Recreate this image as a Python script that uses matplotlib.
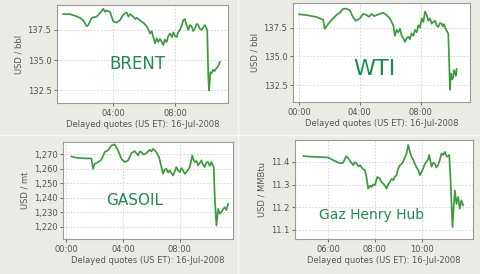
import matplotlib
matplotlib.use("Agg")
import matplotlib.pyplot as plt
from matplotlib.ticker import FuncFormatter

# hours (US ET) and prices
brent_h = [0.79, 1.23, 1.6, 1.87, 2.08, 2.3, 2.41, 2.63, 2.95, 3.16, 3.37, 3.5, 3.59, 3.8,
           4.02, 4.23, 4.45, 4.66, 4.88, 5.0, 5.1, 5.31, 5.45, 5.53, 5.74, 6.0, 6.17, 6.3,
           6.39, 6.5, 6.6, 6.71, 6.82, 6.92, 7.03, 7.15, 7.25, 7.35, 7.46, 7.57, 7.68, 7.8,
           7.9, 8.0, 8.11, 8.2, 8.32, 8.44, 8.54, 8.64, 8.75, 8.86, 8.97, 9.07, 9.18, 9.28,
           9.4, 9.5, 9.6, 9.72, 9.82, 9.93, 10.08, 10.15, 10.2, 10.28, 10.36, 10.45, 10.55,
           10.66, 10.78, 10.9]
brent_v = [138.8, 138.8, 138.65, 138.5, 138.3, 137.8, 137.9, 138.5, 138.6, 138.9, 139.25, 139.0,
           139.1, 139.0, 138.2, 138.1, 138.3, 138.75, 138.95, 138.6, 138.8, 138.6, 138.4, 138.5,
           138.3, 138.05, 137.8, 137.5, 137.2, 137.4, 136.9, 136.4, 136.8, 136.5, 136.75, 136.5,
           136.25, 136.7, 136.5, 137.0, 137.2, 136.9, 137.3, 137.0, 136.9, 137.3, 137.5, 137.9,
           138.3, 138.4, 137.9, 137.5, 137.9, 137.8, 137.4, 137.6, 138.0, 137.9, 137.6, 137.5,
           137.7, 137.9, 137.5, 133.6, 132.5, 134.0, 133.9, 134.2, 134.1, 134.3, 134.5, 134.85]

wti_h = [0.0, 0.48, 1.14, 1.58, 1.69, 1.85, 2.02, 2.24, 2.46, 2.68, 2.9, 3.12, 3.34, 3.56,
         3.74, 4.0, 4.22, 4.44, 4.6, 4.77, 4.95, 5.1, 5.32, 5.54, 5.76, 5.98, 6.2, 6.31,
         6.42, 6.53, 6.64, 6.75, 6.86, 6.97, 7.08, 7.19, 7.3, 7.4, 7.52, 7.63, 7.74, 7.85,
         7.96, 8.07, 8.18, 8.29, 8.4, 8.5, 8.62, 8.73, 8.84, 8.95, 9.05, 9.16, 9.27, 9.38,
         9.46, 9.54, 9.62, 9.71, 9.82, 9.89, 9.93, 10.0, 10.08, 10.15, 10.2, 10.26, 10.32,
         10.37]
wti_v = [138.66, 138.6, 138.43, 138.2, 137.4, 137.7, 138.0, 138.3, 138.6, 138.8, 139.15, 139.15,
         139.0, 138.4, 138.1, 138.3, 138.7, 138.6, 138.45, 138.7, 138.5, 138.6, 138.7, 138.8,
         138.6, 138.3, 137.7, 136.8, 137.3, 137.1, 137.4, 136.8, 136.6, 136.25, 136.6, 136.7,
         136.5, 137.0, 136.8, 137.3, 137.1, 137.7, 137.5, 138.3, 138.0, 138.9, 138.6, 138.1,
         138.3, 137.85, 138.0, 138.1, 137.7, 137.55, 137.9, 137.85, 137.6, 137.8, 137.5, 137.25,
         136.98, 134.07, 132.1, 133.5, 133.0, 133.2, 133.8, 133.6, 133.3, 133.9]

gasoil_h = [0.35, 0.7, 1.41, 1.76, 1.88, 2.0, 2.24, 2.47, 2.7, 2.94, 3.18, 3.41, 3.65, 3.88,
            4.12, 4.35, 4.59, 4.82, 5.06, 5.18, 5.29, 5.45, 5.65, 5.88, 6.0, 6.12, 6.35, 6.54,
            6.71, 6.82, 6.94, 7.06, 7.18, 7.29, 7.41, 7.53, 7.64, 7.76, 7.88, 8.0, 8.12, 8.24,
            8.36, 8.47, 8.59, 8.71, 8.89, 8.97, 9.06, 9.18, 9.29, 9.41, 9.53, 9.64, 9.76, 9.88,
            10.0, 10.12, 10.24, 10.4, 10.47, 10.59, 10.71, 10.82, 10.94, 11.06, 11.18, 11.3,
            11.41]
gasoil_v = [1268.6, 1267.7, 1267.2, 1267.2, 1260.0, 1263.5, 1264.7, 1266.3, 1271.6, 1272.8,
            1276.2, 1276.9, 1272.8, 1267.0, 1264.7, 1265.8, 1270.9, 1272.3, 1269.3, 1272.0,
            1271.6, 1269.8, 1270.9, 1273.2, 1272.0, 1273.9, 1271.6, 1268.1, 1261.2, 1256.6,
            1259.5, 1260.0, 1257.5, 1258.9, 1257.0, 1255.4, 1258.0, 1261.2, 1259.0, 1257.7,
            1260.5, 1258.9, 1256.5, 1257.7, 1259.5, 1261.2, 1269.3, 1266.5, 1264.7, 1265.5,
            1262.4, 1264.0, 1265.8, 1263.0, 1261.2, 1264.5, 1264.7, 1262.0, 1264.7, 1261.2,
            1240.4, 1220.7, 1232.3, 1229.0, 1230.0, 1232.0, 1233.4, 1231.5, 1235.7]

gaz_h = [4.93, 5.36, 6.0, 6.21, 6.5, 6.64, 6.76, 6.86, 6.96, 7.07, 7.14, 7.21, 7.29, 7.36,
         7.47, 7.57, 7.64, 7.71, 7.79, 7.86, 7.93, 8.0, 8.1, 8.21, 8.29, 8.36, 8.43, 8.5,
         8.57, 8.64, 8.72, 8.79, 8.86, 8.93, 9.0, 9.07, 9.14, 9.21, 9.29, 9.36, 9.43, 9.5,
         9.57, 9.64, 9.71, 9.79, 9.86, 9.93, 10.0, 10.07, 10.14, 10.21, 10.28, 10.33, 10.43,
         10.5, 10.57, 10.64, 10.71, 10.79, 10.86, 10.93, 11.0, 11.05, 11.1, 11.19, 11.24,
         11.33, 11.38, 11.43, 11.5, 11.57, 11.64, 11.71, 11.79]
gaz_v = [11.425, 11.422, 11.419, 11.407, 11.393, 11.396, 11.425, 11.415, 11.4, 11.385, 11.398,
         11.393, 11.38, 11.385, 11.37, 11.363, 11.33, 11.282, 11.295, 11.289, 11.3, 11.297,
         11.333, 11.326, 11.31, 11.304, 11.295, 11.282, 11.3, 11.311, 11.325, 11.319, 11.335,
         11.341, 11.37, 11.385, 11.39, 11.4, 11.42, 11.437, 11.474, 11.445, 11.422, 11.41,
         11.393, 11.375, 11.363, 11.341, 11.355, 11.37, 11.39, 11.4, 11.41, 11.43, 11.378,
         11.395, 11.393, 11.375, 11.385, 11.41, 11.437, 11.43, 11.444, 11.43, 11.422, 11.43,
         11.333, 11.112, 11.2, 11.274, 11.215, 11.245, 11.193, 11.23, 11.208]

BG = "#ebebe6"
GREEN = "#3c9c3c"
LABEL_GREEN = "#1e8c50"
W, H = 480, 274

fig = plt.figure(figsize=(4.8, 2.74), dpi=100)
fig.patch.set_facecolor(BG)


def hour_fmt(v, pos):
    return "%02d:00" % int(round(v))


def panel(box, hours, values, xlim, ylim, xticks, yticks, yfmt, ylabel, name, name_xy, name_size):
    """Draw one quote panel; box is (left, top, right, bottom) in pixels."""
    x0, y0, x1, y1 = box
    ax = fig.add_axes([x0 / W, 1 - y1 / H, (x1 - x0) / W, (y1 - y0) / H])
    ax.set_facecolor("white")
    ax.plot(hours, values, color=GREEN, lw=1.25)
    ax.set_xlim(*xlim)
    ax.set_ylim(*ylim)
    ax.set_xticks(xticks)
    ax.set_yticks(yticks)
    ax.xaxis.set_major_formatter(FuncFormatter(hour_fmt))
    ax.yaxis.set_major_formatter(FuncFormatter(yfmt))
    ax.grid(True, color="#d0d0d0", ls=(0, (2, 2)), lw=0.6)
    ax.tick_params(labelsize=6, colors="#555555", length=2, width=0.6, pad=2)
    for s in ax.spines.values():
        s.set_color("#9a9a9a")
        s.set_linewidth(0.8)
    ax.set_ylabel(ylabel, fontsize=6, color="#555555", labelpad=3)
    ax.set_xlabel("Delayed quotes (US ET): 16-Jul-2008", fontsize=6, color="#555555", labelpad=2)
    ax.text(name_xy[0], name_xy[1], name, transform=ax.transAxes, fontsize=name_size,
            color=LABEL_GREEN, ha="center", va="center")
    return ax


panel((57, 5, 228, 103), brent_h, brent_v, (0.39, 11.42), (131.46, 139.56), [4, 8],
      [132.5, 135.0, 137.5], lambda v, p: "%.1f" % v, "USD / bbl", "BRENT", (0.47, 0.4), 12)
panel((293, 3, 470, 102), wti_h, wti_v, (-0.4, 11.25), (131.02, 139.65), [0, 4, 8],
      [132.5, 135.0, 137.5], lambda v, p: "%.1f" % v, "USD / bbl", "WTI", (0.46, 0.33), 16)
panel((63, 142, 233, 239), gasoil_h, gasoil_v, (-0.24, 11.76), (1211.4, 1278.6), [0, 4, 8],
      [1220, 1230, 1240, 1250, 1260, 1270], lambda v, p: "{:,.0f}".format(v), "USD / mt",
      "GASOIL", (0.42, 0.4), 11)
panel((295, 140, 473, 239), gaz_h, gaz_v, (4.57, 12.21), (11.06, 11.496), [6, 8, 10],
      [11.1, 11.2, 11.3, 11.4], lambda v, p: "%.1f" % v, "USD / MMBtu", "Gaz Henry Hub",
      (0.43, 0.24), 10)

# faint light seams between the four screenshots
fig.add_artist(plt.Line2D([238 / W, 238 / W], [0, 1], color="#f8f8f6", lw=1.0))
fig.add_artist(plt.Line2D([0, 1], [1 - 135 / H, 1 - 135 / H], color="#f8f8f6", lw=1.0))

fig.savefig("out.png", dpi=100, facecolor=BG)
